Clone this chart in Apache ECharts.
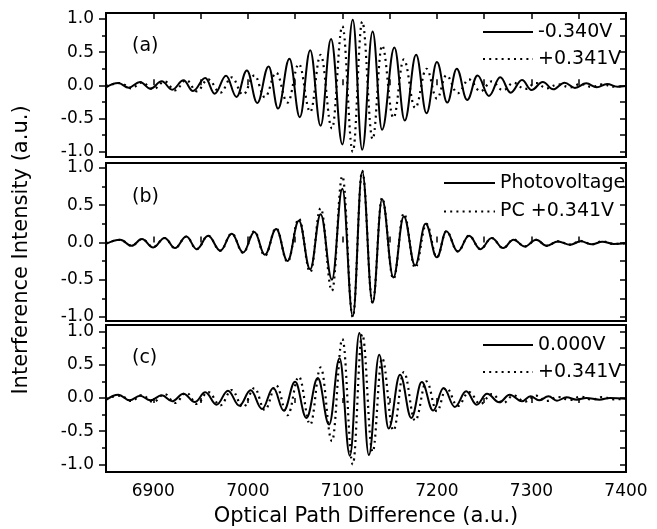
<!DOCTYPE html>
<html><head><meta charset="utf-8">
<script src="https://cdn.jsdelivr.net/npm/echarts@6/dist/echarts.min.js"></script>
<style>html,body{margin:0;padding:0;background:#fff}#c{width:657px;height:529px}</style>
</head><body><div id="c"></div>
<script>
// ---------------- data ----------------
const xMin = 6850, xMax = 7400;
const panelLabels = ['(a)', '(b)', '(c)'];
const xTitle = 'Optical Path Difference (a.u.)';
const yTitle = 'Interference Intensity (a.u.)';
const legendA = ['-0.340V', '+0.341V'];
const legendB = ['Photovoltage', 'PC +0.341V'];
const legendC = ['0.000V', '+0.341V'];

// -0.340V (panel a, solid)
const minus340 = [
  [6850,-0.03],[6863,0.035],[6874,-0.035],[6886,0.05],[6897,-0.05],[6909,0.06],[6920,-0.065],
  [6932,0.075],[6942,-0.085],[6955,0.11],[6965,-0.125],[6977,0.145],[6988,-0.175],[6999,0.225],
  [7010,-0.265],[7022,0.285],[7032,-0.35],[7044,0.40],[7055,-0.48],[7066,0.53],[7077,-0.61],
  [7088,0.70],[7100,-0.89],[7111,0.99],[7121,-0.97],[7132,0.81],[7142,-0.67],[7155,0.57],
  [7166,-0.53],[7178,0.46],[7189,-0.42],[7200,0.35],[7211,-0.26],[7221,0.25],[7232,-0.22],
  [7243,0.15],[7255,-0.16],[7267,0.12],[7278,-0.11],[7290,0.08],[7300,-0.07],[7312,0.05],
  [7323,-0.06],[7335,0.04],[7346,-0.04],[7358,0.03],[7369,-0.03],[7380,0.02],[7391,-0.02],[7400,-0.01]
];
// PC +0.341V (dotted, same curve in all panels)
const pc341 = [
  [6850,-0.01],[6865,0.035],[6877,-0.045],[6888,0.045],[6900,-0.06],[6912,0.06],[6923,-0.075],
  [6935,0.08],[6946,-0.09],[6958,0.09],[6971,-0.11],[6983,0.12],[6995,-0.14],[7007,0.15],
  [7018,-0.18],[7030,0.19],[7042,-0.26],[7054,0.32],[7066,-0.40],[7077,0.46],[7089,-0.65],
  [7100,0.89],[7111,-1.0],[7121,0.96],[7132,-0.81],[7142,0.60],[7154,-0.49],[7165,0.39],
  [7177,-0.34],[7189,0.25],[7200,-0.20],[7210,0.15],[7222,-0.12],[7234,0.09],[7246,-0.09],
  [7258,0.06],[7270,-0.075],[7281,0.04],[7293,-0.055],[7305,0.035],[7316,-0.045],[7328,0.015],
  [7341,-0.03],[7352,0.02],[7364,-0.025],[7375,0.015],[7387,-0.02],[7400,-0.01]
];
// Photovoltage (panel b, solid)
const photovoltage = [
  [6850,-0.02],[6865,0.036],[6877,-0.045],[6888,0.045],[6900,-0.067],[6912,0.06],[6923,-0.076],
  [6935,0.08],[6946,-0.09],[6958,0.09],[6971,-0.11],[6983,0.116],[6995,-0.134],[7007,0.14],
  [7018,-0.165],[7030,0.18],[7042,-0.25],[7054,0.29],[7066,-0.36],[7077,0.38],[7089,-0.50],
  [7100,0.72],[7111,-0.99],[7121,0.95],[7132,-0.81],[7142,0.58],[7154,-0.47],[7165,0.35],
  [7177,-0.31],[7188,0.25],[7200,-0.20],[7210,0.15],[7222,-0.12],[7234,0.09],[7246,-0.09],
  [7258,0.06],[7270,-0.076],[7281,0.036],[7293,-0.054],[7305,0.036],[7316,-0.045],[7328,0.013],
  [7341,-0.03],[7352,0.015],[7364,-0.025],[7375,0.01],[7387,-0.02],[7400,-0.01]
];
// 0.000V (panel c, solid)
const zero000 = [
  [6850,-0.03],[6863,0.05],[6875,-0.035],[6886,0.035],[6897,-0.035],[6909,0.04],[6920,-0.05],
  [6932,0.065],[6944,-0.06],[6955,0.085],[6967,-0.10],[6979,0.11],[6991,-0.115],[7003,0.115],
  [7015,-0.165],[7027,0.15],[7038,-0.19],[7050,0.245],[7062,-0.30],[7074,0.30],[7086,-0.40],
  [7097,0.60],[7108,-0.87],[7118,0.98],[7128,-0.86],[7139,0.65],[7149,-0.46],[7161,0.35],
  [7173,-0.30],[7184,0.24],[7196,-0.19],[7207,0.15],[7219,-0.135],[7231,0.10],[7242,-0.10],
  [7253,0.065],[7266,-0.065],[7277,0.05],[7290,-0.05],[7299,0.025],[7308,-0.035],[7318,0.025],
  [7327,-0.04],[7337,0.01],[7348,-0.025],[7358,0.0],[7372,-0.025],[7383,0.0],[7400,-0.01]
];

// ---------------- layout ----------------
const FONT = 'DejaVu Sans';
const L = 106, W = 520;
const frames = [
  {top: 13,  height: 144, yMin: -1.08,  yMax: 1.09},
  {top: 163, height: 158, yMin: -1.055, yMax: 1.067},
  {top: 325, height: 147, yMin: -1.115, yMax: 1.10}
];
const panelSeries = [
  [{name: legendA[0], data: minus340, dotted: false}, {name: legendA[1], data: pc341, dotted: true}],
  [{name: legendB[0], data: photovoltage, dotted: false}, {name: legendB[1], data: pc341, dotted: true}],
  [{name: legendC[0], data: zero000, dotted: false}, {name: legendC[1], data: pc341, dotted: true}]
];
const legendPos = [
  {left: 482, top: 22.5, gap: 8, w: 50},
  {left: 443, top: 173.5, gap: 9.5, w: 51},
  {left: 482, top: 335.5, gap: 8, w: 50}
];
const labelTops = [36.5, 187.5, 348.5];

const grid = [], xAxis = [], yAxis = [], series = [], legend = [], title = [];
const solidStyle = {color: '#000', width: 2};
const dotStyle = {color: '#000', width: 2.2, type: [2, 4.2]};

frames.forEach((f, i) => {
  const span = f.yMax - f.yMin;
  const gData = grid.length;
  grid.push({left: L, width: W, top: f.top, height: f.height, show: true,
    borderColor: '#000', borderWidth: 2, backgroundColor: 'transparent'});
  const gTick = grid.length;
  grid.push({left: L, width: W, top: f.top + (f.yMax - 1) / span * f.height,
    height: 2 / span * f.height});
  const isLast = i === frames.length - 1;
  const xb = xAxis.length;
  xAxis.push({type: 'value', gridIndex: gData, min: xMin, max: xMax, interval: 50,
    axisLine: {show: false}, splitLine: {show: false},
    axisTick: {show: true, inside: !isLast, length: isLast ? 5 : 6, lineStyle: {color: '#000', width: 1.5}},
    axisLabel: {show: isLast, margin: 11, color: '#000', fontFamily: FONT, fontSize: 17,
      formatter: v => (v % 100 === 0 ? String(v) : '')},
    name: isLast ? xTitle : '', nameLocation: 'middle', nameGap: 34,
    nameTextStyle: {color: '#000', fontFamily: FONT, fontSize: 21}});
  if (i === 0) {
    xAxis.push({type: 'value', gridIndex: gData, position: 'top', min: xMin, max: xMax, interval: 50,
      axisLine: {show: false}, splitLine: {show: false}, axisLabel: {show: false},
      axisTick: {show: true, inside: true, length: 6, lineStyle: {color: '#000', width: 1.5}}});
  }
  const yd = yAxis.length;
  yAxis.push({type: 'value', gridIndex: gData, min: f.yMin, max: f.yMax,
    axisLine: {show: false}, axisTick: {show: false}, axisLabel: {show: false}, splitLine: {show: false}});
  xAxis.push({type: 'value', gridIndex: gTick, min: xMin, max: xMax, show: false});
  yAxis.push({type: 'value', gridIndex: gTick, min: -1, max: 1, interval: 0.5, position: 'left',
    axisLine: {show: false}, splitLine: {show: false},
    axisTick: {show: true, inside: false, length: 7, lineStyle: {color: '#000', width: 1.5}},
    minorTick: {show: true, splitNumber: 2, length: 4, lineStyle: {color: '#000', width: 1.5}},
    minorSplitLine: {show: false},
    axisLabel: {margin: 12, color: '#000', fontFamily: FONT, fontSize: 17, formatter: v => v.toFixed(1)}});
  yAxis.push({type: 'value', gridIndex: gTick, min: -1, max: 1, interval: 0.25, position: 'right',
    axisLine: {show: false}, splitLine: {show: false}, axisLabel: {show: false},
    axisTick: {show: true, inside: true, length: 6, lineStyle: {color: '#000', width: 1.5}}});

  panelSeries[i].forEach(s => {
    series.push({type: 'line', name: s.name, data: s.data, xAxisIndex: xb, yAxisIndex: yd,
      symbol: 'none', smooth: 0.4, smoothMonotone: 'x', clip: true, animation: false,
      lineStyle: s.dotted ? dotStyle : solidStyle, itemStyle: {color: '#000'}, z: s.dotted ? 3 : 4});
  });
  legend.push({orient: 'vertical', left: legendPos[i].left, top: legendPos[i].top, padding: 0,
    itemGap: legendPos[i].gap, itemWidth: legendPos[i].w, itemHeight: 19, selectedMode: false,
    data: panelSeries[i].map(s => s.name),
    itemStyle: {opacity: 0},
    textStyle: {color: '#000', fontFamily: FONT, fontSize: 19, lineHeight: 19, padding: [0, 0, 0, 0]}});
  title.push({text: panelLabels[i], left: 132, top: labelTops[i], padding: 0,
    textStyle: {color: '#000', fontFamily: FONT, fontSize: 19, fontWeight: 'normal'}});
});

const chart = echarts.init(document.getElementById('c'), null, {renderer: 'canvas'});
chart.setOption({
  animation: false, backgroundColor: '#fff',
  title, grid, xAxis, yAxis, series, legend,
  graphic: [{type: 'text', x: 22, y: 250, rotation: Math.PI / 2,
    style: {text: yTitle, fill: '#000', font: '21px "DejaVu Sans"', textAlign: 'center', textVerticalAlign: 'middle'}}]
});
</script></body></html>
